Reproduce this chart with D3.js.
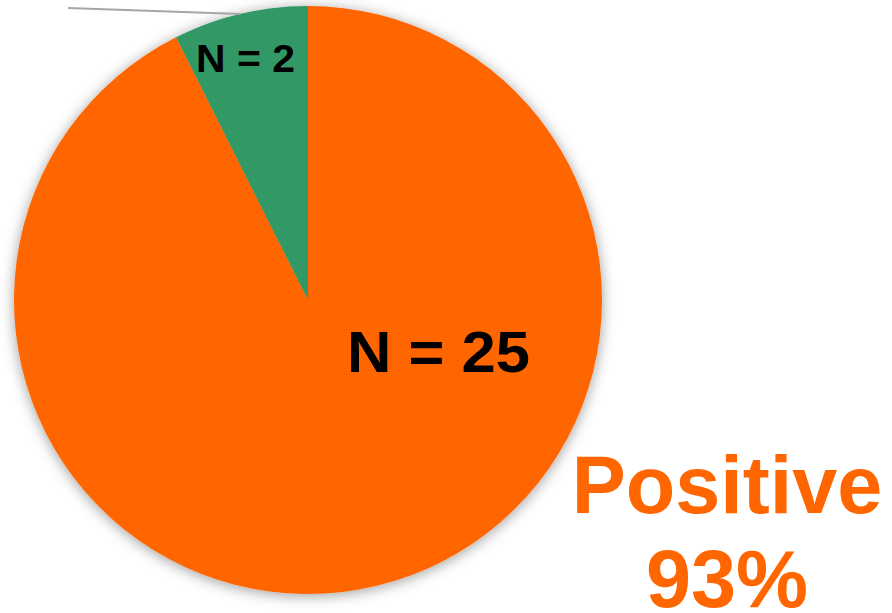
<!DOCTYPE html>
<html><head><meta charset="utf-8">
<script src="https://cdn.jsdelivr.net/npm/d3@7"></script>
<style>html,body{margin:0;padding:0;background:#fff;}svg{display:block;}</style>
</head><body>
<script>
const categories = ["Positive", "Negative"];
const values = [25, 2];
const countLabels = ["N = 25", "N = 2"];
const percentLabels = ["93%", "7%"];

const W = 892, H = 613;
const cx = 308, cy = 300, R = 294;
const colors = d3.scaleOrdinal().domain(categories).range(["#FF6600", "#339966"]);

const svg = d3.select("body").append("svg").attr("width", W).attr("height", H);
const defs = svg.append("defs");
const f = defs.append("filter").attr("id", "sh").attr("x", "-10%").attr("y", "-10%").attr("width", "120%").attr("height", "120%");
f.append("feDropShadow").attr("dx", 0).attr("dy", 2).attr("stdDeviation", 7).attr("flood-color", "#000").attr("flood-opacity", 0.38);

const pie = d3.pie().sort(null).value(d => d)(values);
const arc = d3.arc().innerRadius(0).outerRadius(R);
const edge = d3.arc().innerRadius(R).outerRadius(R);

const g = svg.append("g").attr("transform", `translate(${cx},${cy})`);
g.append("g").attr("filter", "url(#sh)")
  .selectAll("path").data(pie).join("path")
  .attr("d", arc).attr("fill", (d, i) => colors(categories[i]));

// leader line for the small slice
const neg = pie[1];
const [ex, ey] = edge.centroid(neg);
g.append("line").attr("x1", ex).attr("y1", ey).attr("x2", 68 - cx).attr("y2", 8 - cy)
  .attr("stroke", "#a6a6a6").attr("stroke-width", 2);

const font = "'Liberation Sans', Arial, sans-serif";
// count labels
g.append("text").attr("x", 347 - cx).attr("y", 372 - cy)
  .attr("font-family", font).attr("font-weight", "bold").attr("font-size", 57).attr("fill", "#000")
  .attr("textLength", 183).attr("lengthAdjust", "spacingAndGlyphs")
  .text(countLabels[0]);
g.append("text").attr("x", 196 - cx).attr("y", 72 - cy)
  .attr("font-family", font).attr("font-weight", "bold").attr("font-size", 39).attr("fill", "#000")
  .attr("textLength", 99).attr("lengthAdjust", "spacingAndGlyphs")
  .text(countLabels[1]);

// outside label
const lab = svg.append("text").attr("text-anchor", "middle")
  .attr("font-family", font).attr("font-weight", "bold").attr("font-size", 81).attr("fill", colors(categories[0]));
lab.append("tspan").attr("x", 727).attr("y", 513).text(categories[0]);
lab.append("tspan").attr("x", 727).attr("y", 607).text(percentLabels[0]);
</script>
</body></html>
